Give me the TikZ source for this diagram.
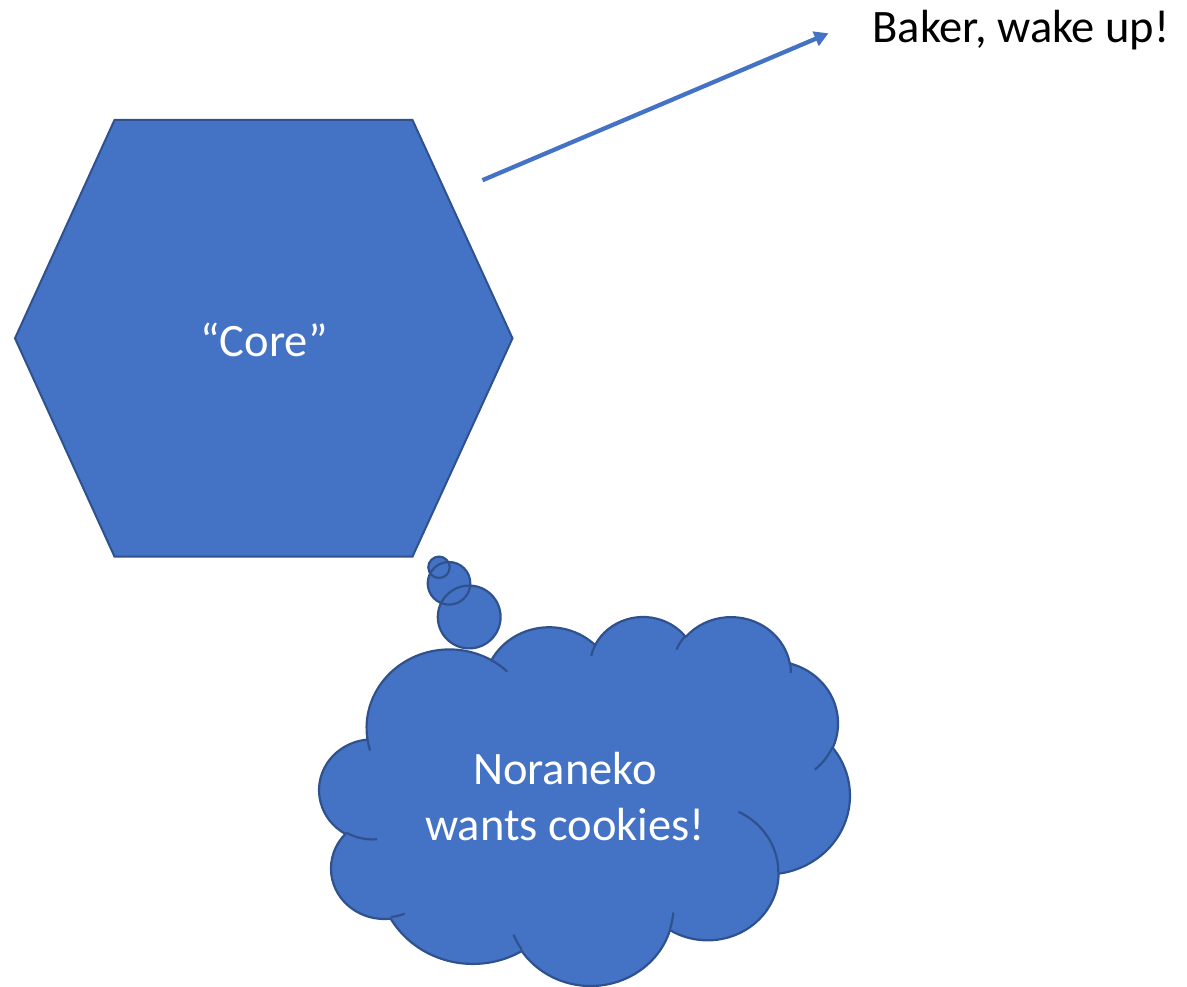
\documentclass[tikz,border=0pt]{standalone}
\usepackage{fontspec}
\setmainfont{Carlito}
\usetikzlibrary{arrows.meta}
\definecolor{pptblue}{HTML}{4472C4}
\definecolor{pptedge}{HTML}{2F528F}
\begin{document}
\begin{tikzpicture}[x=1pt,y=-1pt,
  shapestyle/.style={fill=pptblue, draw=pptedge, line width=2pt, line join=miter},
  cloudline/.style={draw=pptedge, line width=2.2pt},
  txt/.style={font=\fontsize{46.5}{56}\selectfont, inner sep=0pt},
  connector/.style={-{Triangle[length=14pt,width=15pt]}, line width=4.3pt, draw=pptblue}]
\useasboundingbox (0,0) rectangle (1187,987);

% hexagon
\coordinate (h1) at (114.5,120);
\coordinate (h2) at (412.5,120);
\coordinate (h3) at (512.5,338.3);
\coordinate (h4) at (412.5,556.6);
\coordinate (h5) at (114.5,556.6);
\coordinate (h6) at (15,338.3);
\draw[shapestyle] (h1) -- (h2) -- (h3) -- (h4) -- (h5) -- (h6) -- cycle;
\node[txt, text=white, anchor=base] (core) at (264,356) {“Core”};

% arrow
\coordinate (a0) at (482.5,180.2);
\coordinate (a1) at (828.5,33.3);
\draw[connector] (a0) -- (a1);
\node[txt, anchor=base] (baker) at (1021,43) {Baker, wake up!};

% thought bubbles
\coordinate (b1) at (439,567.3);
\coordinate (b2) at (449,583.3);
\coordinate (b3) at (469.2,617);
\draw[cloudline, fill=pptblue] (b1) circle[radius=10.7pt] (b2) circle[radius=21.3pt] (b3) circle[radius=31.4pt];

% cloud
\begin{scope}[shift={(319.47,615.78)}, x=1.2275pt, y=-0.8538pt]
\draw[cloudline, fill=pptblue] (39.00,143.70)
  arc[start angle=172.25, delta angle=128.11, x radius=67.53, y radius=91.90]
  arc[start angle=-152.02, delta angle=106.58, x radius=53.33, y radius=72.67]
  arc[start angle=-153.48, delta angle=116.18, x radius=43.65, y radius=59.45]
  arc[start angle=-139.69, delta angle=129.48, x radius=48.57, y radius=65.95]
  arc[start angle=-74.77, delta angle=97.98, x radius=53.33, y radius=72.73]
  arc[start angle=-37.52, delta angle=119.38, x radius=67.75, y radius=92.20]
  arc[start angle=0.46, delta angle=121.52, x radius=57.85, y radius=78.67]
  arc[start angle=16.84, delta angle=129.40, x radius=67.52, y radius=92.15]
  arc[start angle=58.98, delta angle=91.21, x radius=77.20, y radius=105.43]
  arc[start angle=83.31, delta angle=139.81, x radius=43.60, y radius=59.18]
  arc[start angle=120.35, delta angle=143.76, x radius=43.45, y radius=59.45]
  -- cycle;
\draw[cloudline] (46.93,261.77) arc[start angle=85.55, delta angle=34.80, x radius=43.45, y radius=59.45];
\draw[cloudline] (69.28,348.99) arc[start angle=68.24, delta angle=15.07, x radius=43.60, y radius=59.18];
\draw[cloudline] (164.78,390.90) arc[start angle=146.24, delta angle=12.23, x radius=67.52, y radius=92.15];
\draw[cloudline] (288.27,347.51) arc[start angle=4.74, delta angle=12.10, x radius=67.52, y radius=92.15];
\draw[cloudline] (341.29,229.54) arc[start angle=-64.03, delta angle=64.49, x radius=57.85, y radius=78.67];
\draw[cloudline] (417.98,153.54) arc[start angle=23.21, delta angle=26.41, x radius=53.33, y radius=72.73];
\draw[cloudline] (383.24,54.26) arc[start angle=-10.21, delta angle=11.03, x radius=48.57, y radius=65.95];
\draw[cloudline] (290.78,39.52) arc[start angle=-156.29, delta angle=16.60, x radius=48.57, y radius=65.95];
\draw[cloudline] (221.41,47.20) arc[start angle=-167.73, delta angle=14.25, x radius=43.65, y radius=59.45];
\draw[cloudline] (140.00,51.92) arc[start angle=-59.64, delta angle=13.90, x radius=67.53, y radius=91.90];
\draw[cloudline] (41.27,157.89) arc[start angle=163.19, delta angle=9.06, x radius=67.53, y radius=91.90];
\end{scope}
\node[txt, text=white, align=center] (thought) at (565,797) {Noraneko\\wants cookies!};
\end{tikzpicture}
\end{document}
